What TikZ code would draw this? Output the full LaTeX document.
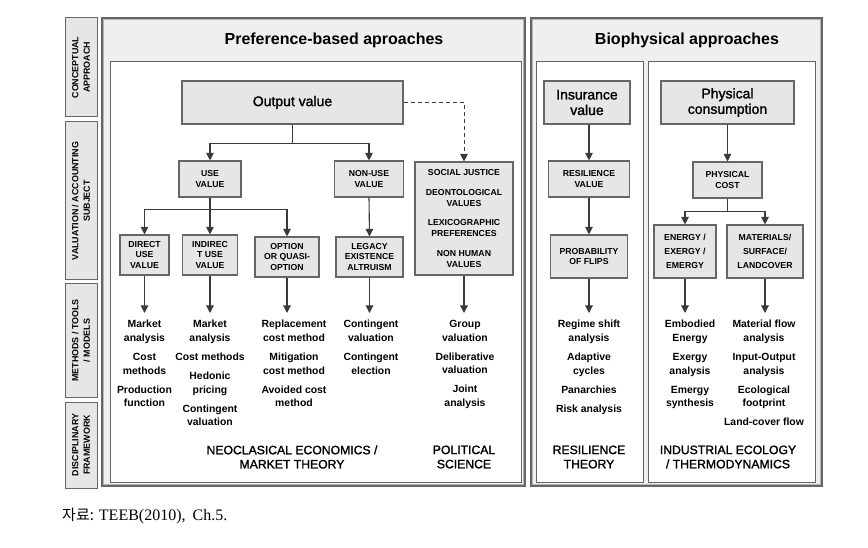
\documentclass[tikz,border=0pt]{standalone}
\usepackage{fontspec}
\setmainfont{Liberation Sans}
\newfontfamily\medfont[FakeBold=1.5]{Liberation Sans}
\newfontfamily\krfont{Noto Sans CJK KR}
\newfontfamily\serifx{Liberation Serif}
\usetikzlibrary{arrows.meta,calc}
\definecolor{panelfill}{HTML}{EFEFEF}
\definecolor{boxfill}{HTML}{E6E6E6}
\definecolor{edge}{HTML}{666666}
\definecolor{edgelight}{HTML}{B4B4B4}
\definecolor{conncol}{HTML}{3A3A3A}
\begin{document}
\begin{tikzpicture}[x=1pt,y=-1pt,
  panel/.style={draw=edge, fill=panelfill, line width=1.2pt},
  panelin/.style={draw=edgelight, line width=0.8pt},
  frame/.style={draw=edge, fill=white, line width=1pt},
  box/.style={draw=edge, fill=boxfill, line width=1.1pt, align=center, inner sep=0pt,
    font=\bfseries\fontsize{8.7}{10.8}\selectfont},
  bigbox/.style={box, font=\medfont\fontsize{14}{15.5}\selectfont},
  lbl/.style={draw=edge, fill=boxfill, line width=1pt, align=center, rotate=90, inner sep=0pt,
    minimum height=32pt, font=\bfseries\fontsize{8.9}{11.5}\selectfont},
  ttl/.style={font=\bfseries\fontsize{16}{19}\selectfont, inner sep=0pt},
  lst/.style={align=center, inner sep=0pt, anchor=north, font=\bfseries\fontsize{10.4}{13.6}\selectfont},
  disc/.style={align=center, inner sep=0pt, font=\medfont\fontsize{12.2}{14.2}\selectfont},
  conn/.style={draw=conncol, line width=1.1pt},
  arr/.style={conn, -{Triangle[width=7.5pt,length=7.5pt]}},
]
\useasboundingbox (0,0) rectangle (868,548);

% panels
\path[panel] (102,18) rectangle (525,486);
\path[panelin] (103.6,19.6) rectangle (523.4,484.4);
\path[frame] (110,62) rectangle (521,482);
\path[panel] (531,18) rectangle (822,486);
\path[panelin] (532.6,19.6) rectangle (820.4,484.4);
\path[frame] (536,62) rectangle (643,482);
\path[frame] (648,62) rectangle (815,482);

\node[ttl] (t1) at (334,40) {Preference-based aproaches};
\node[ttl] (t2) at (687,40) {Biophysical approaches};

% left labels
\node[lbl, minimum width=99pt] (c1) at (81,67.5) {CONCEPTUAL\\APPROACH};
\node[lbl, minimum width=158pt] (c2) at (81,201) {VALUATION / ACCOUNTING\\SUBJECT};
\node[lbl, minimum width=113pt] (c3) at (81,340.5) {METHODS / TOOLS\\/ MODELS};
\node[lbl, minimum width=86pt] (c4) at (81,445) {DISCIPLINARY\\FRAMEWORK};

% preference-based boxes
\node[bigbox, minimum width=221pt, minimum height=43pt] (out) at (292.5,102.5) {Output value};
\node[box, minimum width=62pt, minimum height=36pt] (use) at (210,179) {USE\\VALUE};
\node[box, minimum width=69pt, minimum height=36pt] (nonuse) at (369,179) {NON-USE\\VALUE};
\node[box, minimum width=98pt, minimum height=113pt] (social) at (464,218.5)
  {SOCIAL JUSTICE\\[9pt]DEONTOLOGICAL\\VALUES\\[9pt]LEXICOGRAPHIC\\PREFERENCES\\[9pt]NON HUMAN\\VALUES};
\node[box, minimum width=49pt, minimum height=40pt] (direct) at (144.5,255) {DIRECT\\USE\\VALUE};
\node[box, minimum width=55pt, minimum height=40pt] (indirect) at (210,255) {INDIREC\\T USE\\VALUE};
\node[box, minimum width=64pt, minimum height=40pt] (option) at (287,257) {OPTION\\OR QUASI-\\OPTION};
\node[box, minimum width=67pt, minimum height=40pt] (legacy) at (369.5,257) {LEGACY\\EXISTENCE\\ALTRUISM};

% biophysical boxes
\node[bigbox, minimum width=86pt, minimum height=43pt] (insur) at (587,102.5) {Insurance\\value};
\node[box, minimum width=81pt, minimum height=36pt] (resil) at (589,179) {RESILIENCE\\VALUE};
\node[box, minimum width=77pt, minimum height=43pt] (prob) at (589,256.5) {PROBABILITY\\OF FLIPS};
\node[bigbox, minimum width=133pt, minimum height=43pt] (phys) at (727.5,102.5) {Physical\\consumption};
\node[box, minimum width=69pt, minimum height=36pt] (pcost) at (727.5,180) {PHYSICAL\\COST};
\node[box, minimum width=62pt, minimum height=53pt] (energy) at (685,251.5) {ENERGY /\\[3.5pt]EXERGY /\\[3.5pt]EMERGY};
\node[box, minimum width=76pt, minimum height=53pt] (mat) at (765,251.5) {MATERIALS/\\[3.5pt]SURFACE/\\[3.5pt]LANDCOVER};

% lists
\node[lst] (l1) at (144.5,320) {Market\\analysis\\[5.5pt]Cost\\methods\\[5.5pt]Production\\function};
\node[lst] (l2) at (210,320) {Market\\analysis\\[5.5pt]Cost methods\\[5.5pt]Hedonic\\pricing\\[5.5pt]Contingent\\valuation};
\node[lst] (l3) at (294,320) {Replacement\\cost method\\[5.5pt]Mitigation\\cost method\\[5.5pt]Avoided cost\\method};
\node[lst] (l4) at (371,320) {Contingent\\valuation\\[5.5pt]Contingent\\election};
\node[lst] (l5) at (465,320) {Group\\valuation\\[5.5pt]Deliberative\\valuation\\[5.5pt]Joint\\analysis};
\node[lst] (l6) at (589,320) {Regime shift\\analysis\\[5.5pt]Adaptive\\cycles\\[5.5pt]Panarchies\\[5.5pt]Risk analysis};
\node[lst] (l7) at (690,320) {Embodied\\Energy\\[5.5pt]Exergy\\analysis\\[5.5pt]Emergy\\synthesis};
\node[lst] (l8) at (764,320) {Material flow\\analysis\\[5.5pt]Input-Output\\analysis\\[5.5pt]Ecological\\footprint\\[5.5pt]Land-cover flow};

% disciplinary frameworks
\node[disc] (d1) at (292,457) {NEOCLASICAL ECONOMICS /\\MARKET THEORY};
\node[disc] (d2) at (464,457) {POLITICAL\\SCIENCE};
\node[disc] (d3) at (589,457) {RESILIENCE\\THEORY};
\node[disc] (d4) at (728,457) {INDUSTRIAL ECOLOGY\\/ THERMODYNAMICS};

% connectors: preference-based
\draw[conn] (out.south) -- ++(0,19) coordinate (j1);
\draw[arr] (j1) -| (use.north);
\draw[arr] (j1) -| (nonuse.north);
\draw[arr, dashed, dash pattern=on 4pt off 3pt, line width=0.9pt] (out.east) -| (social.north);
\draw[conn] (use.south) -- ++(0,12) coordinate (j2);
\draw[arr] (j2) -| (direct.north);
\draw[arr] (j2) -- (indirect.north);
\draw[arr] (j2) -| (option.north);
\draw[arr] (nonuse.south) -- (legacy.north);
\draw[arr, shorten >=7pt] (direct.south) -- (direct.south |- l1.north);
\draw[arr, shorten >=7pt] (indirect.south) -- (indirect.south |- l2.north);
\draw[arr, shorten >=7pt] (option.south) -- (option.south |- l3.north);
\draw[arr, shorten >=7pt] (legacy.south) -- (legacy.south |- l4.north);
\draw[arr, shorten >=7pt] (social.south) -- (social.south |- l5.north);

% connectors: biophysical
\draw[arr] (insur.south -| resil.north) -- (resil.north);
\draw[arr] (resil.south) -- (prob.north);
\draw[arr, shorten >=7pt] (prob.south) -- (prob.south |- l6.north);
\draw[arr] (phys.south) -- (pcost.north);
\draw[conn] (pcost.south) -- ++(0,13) coordinate (j3);
\draw[arr] (j3) -| (energy.north);
\draw[arr] (j3) -| (mat.north);
\draw[arr, shorten >=7pt] (energy.south) -- (energy.south |- l7.north);
\draw[arr, shorten >=7pt] (mat.south) -- (mat.south |- l8.north);

% caption
\node[anchor=base west, inner sep=0pt, font=\serifx\fontsize{16}{18}\selectfont] (cap) at (62,520)
  {{\krfont\fontsize{15}{18}\selectfont 자료:}\hspace{5pt}TEEB(2010),\hspace{7pt}Ch.5.};
\end{tikzpicture}
\end{document}
